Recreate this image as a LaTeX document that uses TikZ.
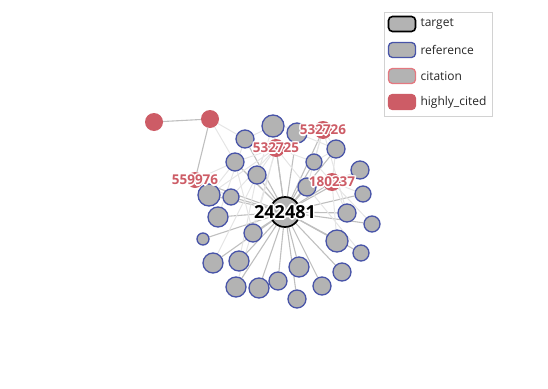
\documentclass[tikz,border=0pt]{standalone}
\usepackage{fontspec}
\setmainfont{Open Sans}
\usepackage{tikz}
\usetikzlibrary{backgrounds, calc}
\definecolor{refblue}   {RGB}{72,  84, 168}
\definecolor{hotred}    {RGB}{205, 92, 102}
\definecolor{citered}   {RGB}{228,120, 128}
\definecolor{nodegray}  {RGB}{179,179,179}

\tikzset{
	refnode/.style={circle, draw=refblue, line width=1.3pt, fill=nodegray, inner sep=0pt},
	hotnode/.style={circle, fill=hotred, inner sep=0pt},
	tgtnode/.style={circle, draw=black, line width=1.7pt, fill=nodegray, inner sep=0pt},
	mainlink/.style={draw=gray!50, line width=1.1pt},
	sidelink/.style={draw=gray!20, line width=1pt},
	swatch/.style={rounded corners=4pt, minimum width=27pt, minimum height=15pt, line width=1.3pt, fill=nodegray},
	legtext/.style={anchor=west, font=\fontsize{12}{14}\selectfont, text=black!85}
}
% label with a white halo
\newcommand{\haloLabel}[4]{%
	\foreach \a in {0,45,...,315}{\node[font=#3, text=white] at ([shift={(\a:1.6pt)}]#1) {#4};}
	\node[font=#3, text=#2] at (#1) {#4};
}

\begin{document}
\begin{tikzpicture}[x=1pt, y=-1pt]
	\useasboundingbox (0,0) rectangle (548,388);
	% reference nodes
	\foreach \n/\x/\y/\r in {1/273/126/11, 2/297/133/10, 3/245/139/9, 4/235/162/9, 5/257/175/9,
		6/314/162/8, 7/336/149/9, 8/360/170/9, 9/307/187/9, 10/363/194/8, 11/209/195/11,
		12/231/197/8, 13/218/217/10, 14/347/213/9, 15/372/224/8, 16/203/239/6, 17/253/233/9,
		18/337/241/11, 19/361/253/8, 20/213/263/10, 21/239/261/10, 22/299/267/10, 23/278/281/9,
		24/342/272/9, 25/236/287/10, 26/259/288/10, 27/322/286/9, 28/297/299/9}
		{\node[refnode, minimum size=2*\r pt] (b\n) at (\x,\y) {};}
	% highly cited nodes
	\foreach \n/\x/\y/\r in {1/154/122/9, 2/210/119/9, 3/195/180/8, 4/276/148/9, 5/323/130/9, 6/332/182/9}
		{\node[hotnode, minimum size=2*\r pt] (h\n) at (\x,\y) {};}
	\node[tgtnode, minimum size=30pt] (tgt) at (285,212) {};

	\begin{scope}[on background layer]
		\foreach \m in {3,4,5,6} {\draw[mainlink] (tgt) -- (h\m);}
		\foreach \m in {1,...,28} {\draw[mainlink] (tgt) -- (b\m);}
		\draw[mainlink] (h1) -- (h2);
		\draw[mainlink] (h2) -- (h3);
		\foreach \p/\q in {h2/b3, b3/b1, h4/b3, h4/b4, h4/b5, h4/b6, h4/b9, h4/b1, h4/b11, h4/b12,
			h5/b2, h5/b7, h5/b6, h5/b1, h5/b9, h6/b8, h6/b10, h6/b14, h6/b9, h6/b6, h6/b7,
			h3/b11, h3/b12, h3/b4, b4/b11, b5/b21, b5/b20, h4/b25, h4/b17, b3/b13, h5/b14,
			b7/b6, b2/b7, h6/b15, h6/b18, b9/b19, b4/b17, b1/b5, h2/b4}
			{\draw[sidelink] (\p) -- (\q);}
	\end{scope}

	% labels
	\haloLabel{h3}{hotred}{\bfseries\fontsize{13.5}{15}\selectfont}{559976}
	\haloLabel{h4}{hotred}{\bfseries\fontsize{13.5}{15}\selectfont}{532725}
	\haloLabel{h5}{hotred}{\bfseries\fontsize{13.5}{15}\selectfont}{532726}
	\haloLabel{h6}{hotred}{\bfseries\fontsize{13.5}{15}\selectfont}{180237}
	\haloLabel{tgt}{black}{\bfseries\fontsize{18}{20}\selectfont}{242481}

	% legend
	\draw[gray!35, line width=0.8pt] (384,12) rectangle (492,116);
	\node[swatch, draw=black, line width=1.6pt] (kt) at (402,24) {};
	\node[swatch, draw=refblue] (kr) at (402,50) {};
	\node[swatch, draw=citered] (kc) at (402,76) {};
	\node[swatch, draw=hotred, fill=hotred] (kh) at (402,102) {};
	\node[legtext] at (417,24) {target};
	\node[legtext] at (417,50) {reference};
	\node[legtext] at (417,76) {citation};
	\node[legtext] at (417,102) {highly\_cited};
\end{tikzpicture}
\end{document}
